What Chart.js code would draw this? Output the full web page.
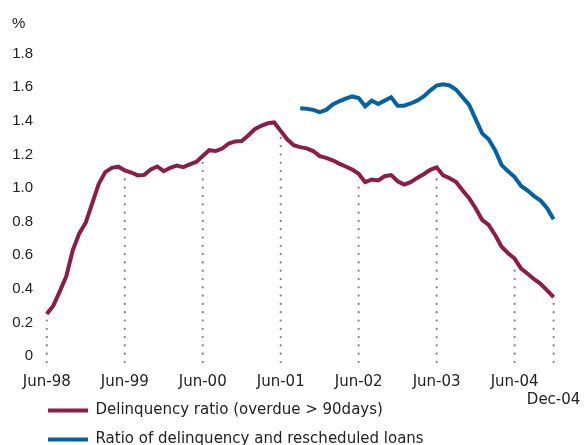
<!DOCTYPE html>
<html>
<head>
<meta charset="utf-8">
<title>Delinquency ratio</title>
<script src="https://cdn.jsdelivr.net/npm/chart.js@4.4.1/dist/chart.umd.min.js"></script>
<style>
  html,body{margin:0;padding:0;background:#fff;}
  #wrap{width:586px;height:445px;}
</style>
</head>
<body>
<div id="wrap"><canvas id="delinqChart" width="586" height="445"></canvas></div>
<script>
// monthly points, Jun-98 .. Dec-04
const months = [
  'Jun-98','Jul-98','Aug-98','Sep-98','Oct-98','Nov-98','Dec-98',
  'Jan-99','Feb-99','Mar-99','Apr-99','May-99','Jun-99','Jul-99','Aug-99','Sep-99','Oct-99','Nov-99','Dec-99',
  'Jan-00','Feb-00','Mar-00','Apr-00','May-00','Jun-00','Jul-00','Aug-00','Sep-00','Oct-00','Nov-00','Dec-00',
  'Jan-01','Feb-01','Mar-01','Apr-01','May-01','Jun-01','Jul-01','Aug-01','Sep-01','Oct-01','Nov-01','Dec-01',
  'Jan-02','Feb-02','Mar-02','Apr-02','May-02','Jun-02','Jul-02','Aug-02','Sep-02','Oct-02','Nov-02','Dec-02',
  'Jan-03','Feb-03','Mar-03','Apr-03','May-03','Jun-03','Jul-03','Aug-03','Sep-03','Oct-03','Nov-03','Dec-03',
  'Jan-04','Feb-04','Mar-04','Apr-04','May-04','Jun-04','Jul-04','Aug-04','Sep-04','Oct-04','Nov-04','Dec-04'
];

// Delinquency ratio (overdue > 90days), %
const delinquencyRatio = [
  0.25, 0.30, 0.385, 0.475, 0.63, 0.73, 0.795, 0.91, 1.025, 1.095, 1.12, 1.127,
  1.105, 1.092, 1.075, 1.078, 1.11, 1.128, 1.10, 1.12, 1.134, 1.124, 1.14, 1.155,
  1.19, 1.225, 1.22, 1.235, 1.265, 1.277, 1.28, 1.313, 1.35, 1.37, 1.385, 1.39,
  1.34, 1.29, 1.255, 1.243, 1.236, 1.22, 1.19, 1.179, 1.165, 1.145, 1.128, 1.11,
  1.085, 1.035, 1.05, 1.045, 1.07, 1.077, 1.04, 1.02, 1.035, 1.06, 1.082, 1.108,
  1.123, 1.075, 1.058, 1.035, 0.985, 0.94, 0.88, 0.81, 0.78, 0.72, 0.65, 0.612,
  0.58, 0.52, 0.49, 0.457, 0.43, 0.39, 0.35
];

// Ratio of delinquency and rescheduled loans, % (series starts Sep-01)
const rescheduledFrom = 'Sep-01';
const rescheduledRatio = [
  1.475, 1.472, 1.465, 1.452, 1.465, 1.497, 1.516, 1.532, 1.545, 1.535,
  1.486, 1.52, 1.50, 1.52, 1.54, 1.49, 1.49, 1.503, 1.52, 1.545,
  1.58, 1.61, 1.617, 1.61, 1.585, 1.54, 1.495, 1.41, 1.325, 1.29,
  1.225, 1.136, 1.10, 1.065, 1.012, 0.985, 0.952, 0.925, 0.88, 0.814
];

const yTicks = [0, 0.2, 0.4, 0.6, 0.8, 1.0, 1.2, 1.4, 1.6, 1.8];
const seriesNames = ['Delinquency ratio (overdue > 90days)', 'Ratio of delinquency and rescheduled loans'];

(function(){
  'use strict';

  const RED = '#8b1d48';
  const BLUE = '#0461a6';
  const TXT = '#222';
  const FONT = { family: '"Liberation Sans", Arial, Helvetica, sans-serif', size: 15 };
  // wider face for the words (legend, month labels)
  const FONT_W = { family: '"DejaVu Sans", Verdana, sans-serif', size: 15 };
  const LAST = months.length - 1;

  const startIdx = months.indexOf(rescheduledFrom);
  const blueData = months.map((m, i) => (i >= startIdx ? rescheduledRatio[i - startIdx] : null));

  // which months get a dotted drop line
  function isMarked(i){ return months[i].startsWith('Jun') || i === LAST; }

  // dotted verticals from the red line down past the baseline
  const dropLines = {
    id: 'dropLines',
    beforeDatasetsDraw(chart){
      const x = chart.scales.x, y = chart.scales.y, ctx = chart.ctx;
      const bottom = chart.chartArea.bottom + 6;
      ctx.save();
      ctx.strokeStyle = '#7d7d7d';
      ctx.lineWidth = 2.2;
      ctx.lineCap = 'round';
      ctx.setLineDash([0, 8.3]);
      months.forEach((m, i) => {
        if(!isMarked(i)) return;
        const px = x.getPixelForValue(i);
        const top = y.getPixelForValue(delinquencyRatio[i]) + 6;
        ctx.beginPath();
        ctx.moveTo(px, bottom);
        ctx.lineTo(px, top);
        ctx.stroke();
      });
      ctx.restore();
    }
  };

  // legend overlaps the axis box: indented and pulled up next to Dec-04
  const legendShift = {
    id: 'legendShift',
    afterLayout(chart){
      const lg = chart.legend;
      if(!lg) return;
      lg.left += 22; lg.right += 22;
      lg.top = 389; lg.bottom = 460;
    }
  };

  const ctx = document.getElementById('delinqChart');
  new Chart(ctx, {
    type: 'line',
    data: {
      labels: months,
      datasets: [
        { label: seriesNames[0], data: delinquencyRatio, borderColor: RED, backgroundColor: RED, borderWidth: 4, pointRadius: 0, tension: 0 },
        { label: seriesNames[1], data: blueData, borderColor: BLUE, backgroundColor: BLUE, borderWidth: 4, pointRadius: 0, tension: 0, spanGaps: false }
      ]
    },
    options: {
      responsive: false,
      animation: false,
      layout: { padding: { left: 12, right: 32.4, top: 0, bottom: 0 } },
      plugins: {
        tooltip: { enabled: false },
        title: {
          display: true, text: '%', align: 'start', color: TXT, font: { ...FONT, weight: 'normal' },
          padding: { top: 15, bottom: 20.6 }
        },
        legend: {
          position: 'bottom', align: 'start', maxHeight: 35,
          labels: {
            color: TXT, font: FONT_W, boxWidth: 40, boxHeight: 4, padding: 14,
            generateLabels(chart){
              const items = Chart.defaults.plugins.legend.labels.generateLabels(chart);
              items.forEach(it => { it.lineWidth = 0; it.fillStyle = it.strokeStyle; });
              return items;
            }
          }
        }
      },
      scales: {
        x: {
          type: 'category',
          // tick marks hidden, their length only spaces the labels down
          grid: { display: false, drawTicks: true, tickLength: 16 },
          border: { display: false },
          ticks: {
            color: TXT, font: FONT_W, autoSkip: false, maxRotation: 0, minRotation: 0, padding: 1,
            callback(v, i){
              if(i === LAST) return ['', months[i]];
              return isMarked(i) ? months[i] : '';
            }
          },
          afterFit(scale){ scale.height = 54; }
        },
        y: {
          min: 0, max: 1.8,
          grid: { display: false, drawTicks: false },
          border: { display: false },
          afterBuildTicks(scale){ scale.ticks = yTicks.map(v => ({ value: v })); },
          ticks: {
            color: TXT, font: FONT, padding: 13.8,
            callback(v){ return v === 0 ? '0' : Number(v).toFixed(1); }
          },
          afterFit(scale){ scale.width = 34.8; }
        }
      }
    },
    plugins: [dropLines, legendShift]
  });
})();
</script>
</body>
</html>
